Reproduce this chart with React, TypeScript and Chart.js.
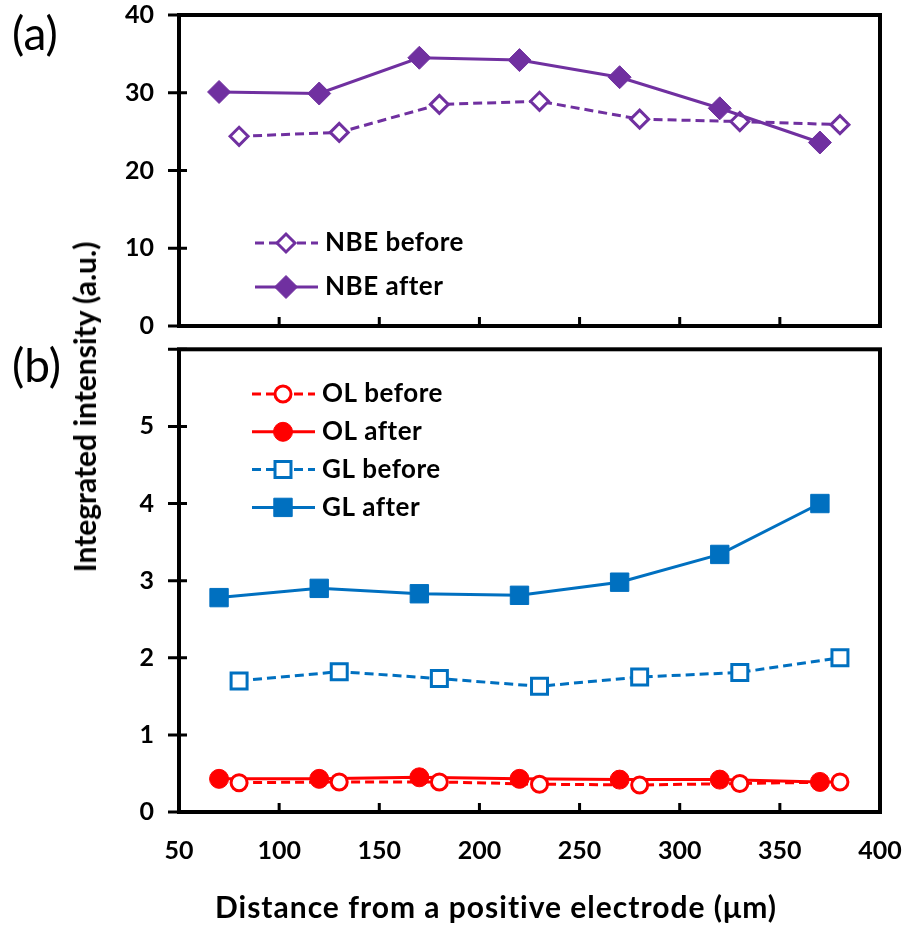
import React, { useEffect, useRef } from 'react';
import { Chart, registerables } from 'chart.js';
Chart.register(...registerables);

// ---- data ----
const xAfter = [70, 120, 170, 220, 270, 320, 370];
const xBefore = [80, 130, 180, 230, 280, 330, 380];
const nbeBefore = [24.4, 24.9, 28.5, 28.9, 26.6, 26.3, 25.9];
const nbeAfter = [30.1, 29.9, 34.5, 34.2, 32.0, 28.0, 23.6];
const olBefore = [0.38, 0.39, 0.39, 0.36, 0.35, 0.37, 0.39];
const olAfter = [0.43, 0.43, 0.45, 0.43, 0.42, 0.42, 0.39];
const glBefore = [1.70, 1.82, 1.73, 1.63, 1.75, 1.81, 2.00];
const glAfter = [2.78, 2.90, 2.83, 2.81, 2.98, 3.34, 4.00];
const seriesLabels = ['NBE before', 'NBE after', 'OL before', 'OL after', 'GL before', 'GL after'];
const xTitle = 'Distance from a positive electrode (\u03bcm)';
const yTitle = 'Integrated intensity (a.u.)';

const PURPLE = '#7030A0';
const RED = '#FF0000';
const BLUE = '#0070C0';
const FONT = 'Lato';

const pts = (xs: number[], ys: number[]) => xs.map((x, i) => ({ x, y: ys[i] }));

function makeDs(label: string, xs: number[], ys: number[], color: string, style: string, filled: boolean, radius: number, order: number) {
  return {
    label,
    data: pts(xs, ys),
    borderColor: color,
    borderWidth: 3,
    borderDash: filled ? [] : [9, 5],
    pointStyle: style,
    pointRadius: radius,
    pointBackgroundColor: filled ? color : '#ffffff',
    pointBorderColor: color,
    pointBorderWidth: filled ? 1 : 3,
    fill: false,
    tension: 0,
    order,
    clip: false as any,
  };
}

function drawMarker(ctx: CanvasRenderingContext2D, style: string, r: number, x: number, y: number) {
  ctx.beginPath();
  if (style === 'circle') {
    ctx.arc(x, y, r, 0, Math.PI * 2);
  } else if (style === 'rect') {
    const s = Math.SQRT1_2 * r;
    ctx.rect(x - s, y - s, 2 * s, 2 * s);
  } else {
    ctx.moveTo(x - r, y);
    ctx.lineTo(x, y - r);
    ctx.lineTo(x + r, y);
    ctx.lineTo(x, y + r);
    ctx.closePath();
  }
  ctx.fill();
  ctx.stroke();
}

const framePlugin = {
  id: 'frame',
  beforeDatasetsDraw(chart: any) {
    const { ctx, chartArea: a, scales } = chart;
    ctx.save();
    ctx.strokeStyle = '#000';
    ctx.lineWidth = 4;
    ctx.strokeRect(a.left, a.top, a.right - a.left, a.bottom - a.top);
    ctx.lineWidth = 3;
    ctx.beginPath();
    const ys = scales.y;
    ys.ticks.forEach((t: any) => {
      const py = ys.getPixelForValue(t.value);
      ctx.moveTo(a.left - 11, py);
      ctx.lineTo(a.left + 8, py);
    });
    const xs = scales.x;
    xs.ticks.forEach((t: any) => {
      const px = xs.getPixelForValue(t.value);
      ctx.moveTo(px, a.bottom);
      ctx.lineTo(px, a.bottom - 9);
    });
    ctx.stroke();
    ctx.restore();
  },
};

const legendPlugin = {
  id: 'insideLegend',
  afterDraw(chart: any, _args: any, opts: any) {
    const { ctx } = chart;
    chart.data.datasets.forEach((ds: any, k: number) => {
      const cy = opts.y + k * opts.gap;
      ctx.save();
      ctx.strokeStyle = ds.borderColor;
      ctx.lineWidth = ds.borderWidth;
      ctx.setLineDash(ds.borderDash || []);
      ctx.beginPath();
      ctx.moveTo(opts.x0, cy);
      ctx.lineTo(opts.x1, cy);
      ctx.stroke();
      ctx.setLineDash([]);
      ctx.fillStyle = ds.pointBackgroundColor;
      ctx.strokeStyle = ds.pointBorderColor;
      ctx.lineWidth = ds.pointBorderWidth;
      drawMarker(ctx, ds.pointStyle, ds.pointRadius, opts.xm, cy);
      ctx.fillStyle = '#000';
      ctx.font = `bold ${opts.size}px ${FONT}`;
      (ctx as any).letterSpacing = opts.spacing;
      ctx.textBaseline = 'middle';
      ctx.textAlign = 'left';
      ctx.fillText(ds.label, opts.xt, cy);
      ctx.restore();
    });
  },
};

const yTickFont = { family: FONT, weight: 'bold' as const, size: 25, lineHeight: 0.8 };
const xTickFont = { family: FONT, weight: 'bold' as const, size: 25 };
const hiddenTicks = { display: true, drawOnChartArea: false, drawTicks: true, tickColor: 'rgba(0,0,0,0)' };

function ChartA() {
  const ref = useRef<HTMLCanvasElement>(null);
  useEffect(() => {
    const chart = new Chart(ref.current!, {
      type: 'line',
      data: {
        datasets: [
          makeDs(seriesLabels[0], xBefore, nbeBefore, PURPLE, 'rectRot', false, 9, 1),
          makeDs(seriesLabels[1], xAfter, nbeAfter, PURPLE, 'rectRot', true, 11.5, 0),
        ] as any,
      },
      options: {
        animation: false,
        responsive: false,
        layout: { padding: { left: 119, right: 27, top: 15, bottom: 14 } },
        plugins: {
          legend: { display: false },
          tooltip: { enabled: false },
          insideLegend: { x0: 255, x1: 318, xm: 286, xt: 325, y: 243, gap: 44, size: 26, spacing: '0.5px' },
        } as any,
        scales: {
          x: {
            type: 'linear', min: 50, max: 400,
            ticks: { stepSize: 50, display: false },
            grid: { display: false }, border: { display: false },
            afterFit: (s: any) => { s.height = 0; },
          },
          y: {
            min: 0, max: 40,
            ticks: { stepSize: 10, padding: 0, color: '#000', font: yTickFont },
            grid: { ...hiddenTicks, tickLength: 25 }, border: { display: false },
            afterFit: (s: any) => { s.width = 60; },
          },
        } as any,
      },
      plugins: [framePlugin, legendPlugin],
    });
    return () => chart.destroy();
  }, []);
  return <canvas ref={ref} width={907} height={340} style={{ position: 'absolute', left: 0, top: 0 }} />;
}

function ChartB() {
  const ref = useRef<HTMLCanvasElement>(null);
  useEffect(() => {
    const chart = new Chart(ref.current!, {
      type: 'line',
      data: {
        datasets: [
          makeDs(seriesLabels[2], xBefore, olBefore, RED, 'circle', false, 8, 0),
          makeDs(seriesLabels[3], xAfter, olAfter, RED, 'circle', true, 9.5, 1),
          makeDs(seriesLabels[4], xBefore, glBefore, BLUE, 'rect', false, 11.3, 2),
          makeDs(seriesLabels[5], xAfter, glAfter, BLUE, 'rect', true, 13, 3),
        ] as any,
      },
      options: {
        animation: false,
        responsive: false,
        layout: { padding: { left: 119, right: 27, top: 11, bottom: 0 } },
        plugins: {
          legend: { display: false },
          tooltip: { enabled: false },
          insideLegend: { x0: 252, x1: 315, xm: 283, xt: 322, y: 59, gap: 37.8, size: 26, spacing: '0.5px' },
        } as any,
        scales: {
          x: {
            type: 'linear', min: 50, max: 400,
            ticks: { stepSize: 50, padding: 0, color: '#000', font: xTickFont, maxRotation: 0 },
            grid: { ...hiddenTicks, tickLength: 24 }, border: { display: false },
            afterFit: (s: any) => { s.height = 123; },
          },
          y: {
            min: 0, max: 6,
            ticks: { stepSize: 1, padding: 0, color: '#000', font: yTickFont, callback: (v: any) => (v === 6 ? '' : v) },
            grid: { ...hiddenTicks, tickLength: 25 }, border: { display: false },
            afterFit: (s: any) => { s.width = 60; },
          },
        } as any,
      },
      plugins: [framePlugin, legendPlugin],
    });
    return () => chart.destroy();
  }, []);
  return <canvas ref={ref} width={907} height={600} style={{ position: 'absolute', left: 0, top: 335 }} />;
}

const labelStyle: React.CSSProperties = { position: 'absolute', left: 12, fontFamily: FONT, fontSize: 46, lineHeight: '46px', color: '#000', whiteSpace: 'nowrap' };

export default function App() {
  return (
    <div style={{ position: 'absolute', left: 0, top: 0, width: 907, height: 935, background: '#fff', overflow: 'hidden' }}>
      <ChartB />
      <ChartA />
      <div style={{ ...labelStyle, top: 10 }}>(a)</div>
      <div style={{ ...labelStyle, top: 342 }}>(b)</div>
      <div
        style={{
          position: 'absolute', left: 84, top: 407, transform: 'translate(-50%, -50%) rotate(-90deg)',
          fontFamily: FONT, fontWeight: 'bold', fontSize: 30, lineHeight: '34px', whiteSpace: 'nowrap', color: '#000',
        }}
      >
        {yTitle}
      </div>
      <div
        style={{
          position: 'absolute', left: 496, top: 891, transform: 'translateX(-50%)',
          fontFamily: FONT, fontWeight: 'bold', fontSize: 30, lineHeight: '30px', letterSpacing: '1px', whiteSpace: 'nowrap', color: '#000',
        }}
      >
        {xTitle}
      </div>
    </div>
  );
}
